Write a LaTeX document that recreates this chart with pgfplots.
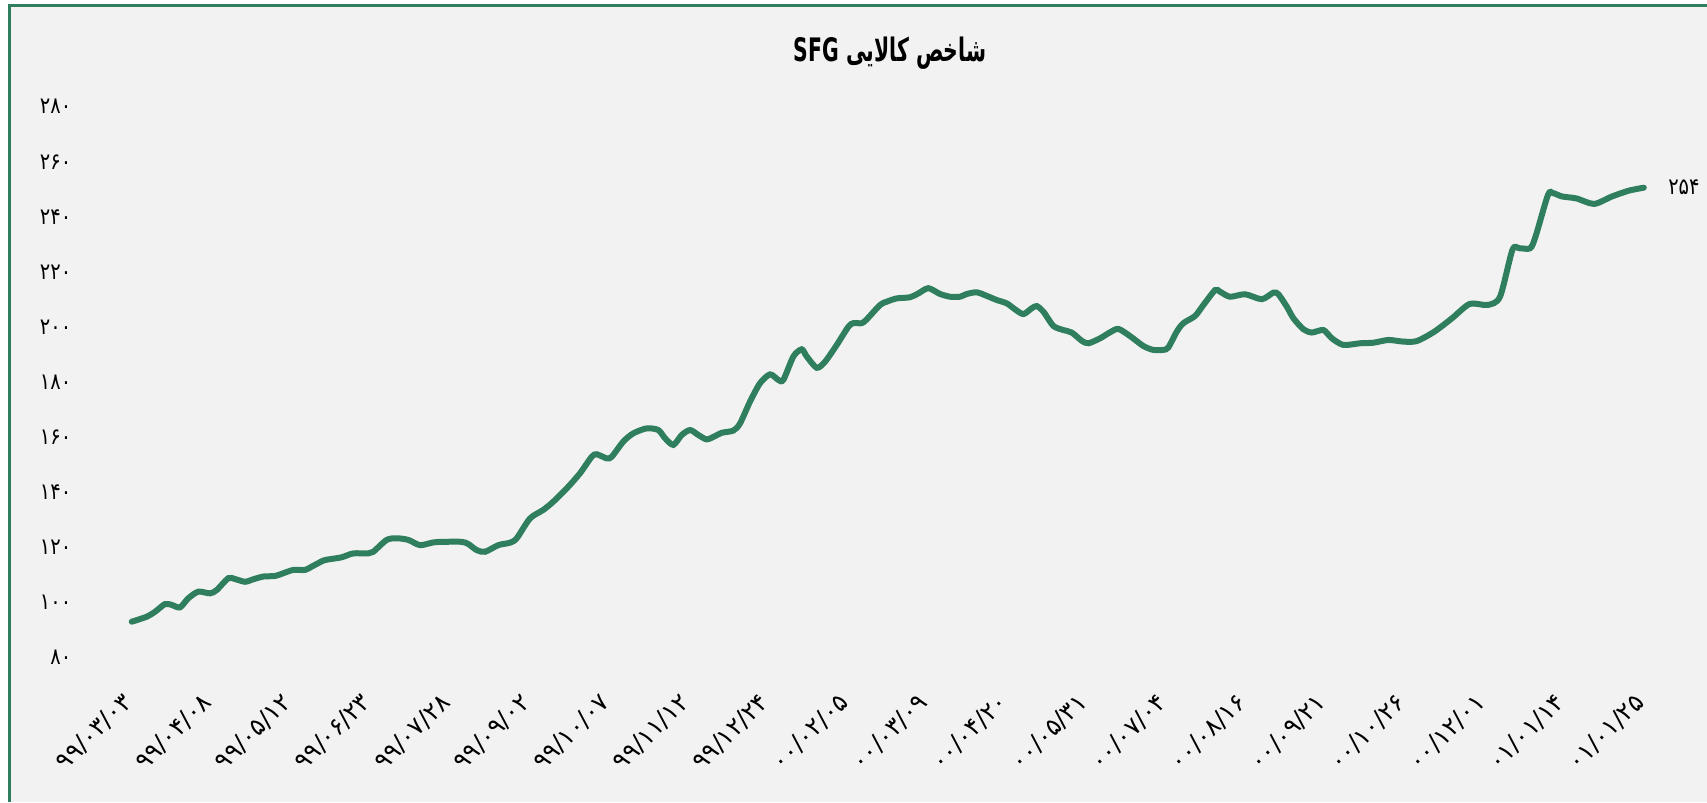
\documentclass[border=0pt]{standalone}
\usepackage{pgfplots}
\pgfplotsset{compat=1.18}
\usepackage{fontspec}
\TeXXeTstate=1
\newfontfamily\fa[Script=Arabic]{DejaVu Sans}
\newfontfamily\fan[Script=Arabic, FakeStretch=0.85]{DejaVu Sans}
\newfontfamily\fat[Script=Arabic, FakeStretch=0.63]{DejaVu Sans}
\definecolor{bg}{HTML}{F2F2F2}
\definecolor{sfg}{HTML}{2F7F5F}

\begin{document}
\begin{tikzpicture}
\useasboundingbox (0,0) rectangle (170.7mm,80.2mm);
\fill[white] (0,0) rectangle (170.7mm,80.2mm);
\fill[bg] (0.9mm,0) rectangle (170.7mm,79.6mm);
\draw[sfg, line width=0.3mm] (0.9mm,0) -- (0.9mm,79.6mm) -- (170.7mm,79.6mm);

\node[font=\fat\bfseries\fontsize{9.2}{11}\selectfont] at (89mm,74.9mm)
  {\beginR شاخص کالایی \beginL SFG\endL\endR};

\begin{axis}[
    at={(13.17mm,14.45mm)}, anchor=south west,
    scale only axis,
    width=151.21mm, height=55.08mm,
    xmin=0, xmax=19, ymin=80, ymax=280,
    axis line style={draw=none},
    tick style={draw=none},
    clip=false,
    xtick={0,...,19},
    xticklabels={۹۹/۰۳/۰۳,۹۹/۰۴/۰۸,۹۹/۰۵/۱۲,۹۹/۰۶/۲۳,۹۹/۰۷/۲۸,۹۹/۰۹/۰۲,۹۹/۱۰/۰۷,۹۹/۱۱/۱۲,۹۹/۱۲/۲۴,۰۰/۰۲/۰۵,۰۰/۰۳/۰۹,۰۰/۰۴/۲۰,۰۰/۰۵/۳۱,۰۰/۰۷/۰۴,۰۰/۰۸/۱۶,۰۰/۰۹/۲۱,۰۰/۱۰/۲۶,۰۰/۱۲/۰۱,۰۱/۰۱/۱۴,۰۱/۰۱/۲۵},
    ytick={80,100,...,280},
    yticklabels={۸۰,۱۰۰,۱۲۰,۱۴۰,۱۶۰,۱۸۰,۲۰۰,۲۲۰,۲۴۰,۲۶۰,۲۸۰},
    xticklabel style={font=\fa\fontsize{7}{8}\selectfont, yshift=-3.2mm, xshift=0.5mm, rotate=45, anchor=east},
    yticklabel style={font=\fan\fontsize{6.5}{8}\selectfont, anchor=east, xshift=-4.8mm},
]
\addplot[sfg, line width=0.6mm, smooth, tension=0.45, line cap=round] table {
x y
0.000 93.0
0.188 94.8
0.293 96.6
0.418 99.4
0.503 99.1
0.607 98.2
0.711 101.5
0.837 103.9
0.984 103.3
1.068 104.5
1.214 108.8
1.298 108.5
1.424 107.5
1.528 108.4
1.654 109.4
1.801 109.6
1.905 110.6
2.031 111.8
2.178 111.8
2.262 113.0
2.408 115.2
2.492 115.7
2.639 116.4
2.785 117.8
2.973 117.8
3.036 118.4
3.204 122.7
3.330 123.3
3.476 122.7
3.623 120.8
3.790 121.8
3.916 122.0
4.147 122.0
4.230 121.2
4.335 119.0
4.440 118.4
4.607 120.8
4.754 121.7
4.838 123.3
5.005 130.5
5.172 133.6
5.298 136.6
5.466 141.4
5.633 146.9
5.780 152.9
5.843 153.8
5.969 152.3
6.032 152.9
6.177 158.4
6.303 161.4
6.471 163.2
6.617 162.6
6.702 159.6
6.806 157.2
6.911 160.8
7.016 162.6
7.120 160.8
7.225 159.2
7.330 160.4
7.414 161.6
7.560 162.4
7.644 165.0
7.769 172.9
7.895 179.6
8.021 182.8
8.125 180.8
8.188 180.8
8.314 189.3
8.419 191.9
8.482 189.3
8.608 185.2
8.712 187.4
8.859 193.5
9.005 200.1
9.068 201.4
9.173 201.4
9.236 202.8
9.403 208.0
9.487 209.2
9.613 210.4
9.780 210.8
9.884 212.2
10.010 214.1
10.157 212.0
10.283 211.0
10.408 211.0
10.493 212.0
10.618 212.6
10.744 211.3
10.870 209.8
10.995 208.6
11.100 206.4
11.204 204.7
11.309 206.8
11.372 207.6
11.455 205.6
11.581 200.4
11.706 198.9
11.812 198.0
11.938 195.0
12.021 194.1
12.168 195.9
12.294 198.1
12.398 199.3
12.545 196.7
12.712 193.1
12.837 191.7
12.963 191.7
13.026 192.6
13.131 198.3
13.214 201.4
13.361 204.0
13.466 208.0
13.613 213.4
13.676 212.8
13.801 211.0
13.990 211.9
14.200 210.1
14.346 212.5
14.408 211.9
14.514 207.4
14.597 203.2
14.722 199.2
14.828 198.0
14.974 198.9
15.080 195.9
15.225 193.5
15.435 194.1
15.602 194.3
15.791 195.3
15.979 194.7
16.147 194.9
16.367 198.3
16.591 203.2
16.813 208.4
17.037 208.0
17.193 211.0
17.349 228.0
17.438 228.6
17.572 228.6
17.639 232.8
17.796 248.0
17.862 248.6
17.974 247.4
18.153 246.7
18.375 244.7
18.599 247.4
18.810 249.5
19.000 250.6
};
\node[anchor=west, font=\fan\fontsize{6.5}{8}\selectfont, xshift=1.2mm] at (axis cs:19,250.6) {۲۵۴};
\end{axis}
\end{tikzpicture}
\end{document}
